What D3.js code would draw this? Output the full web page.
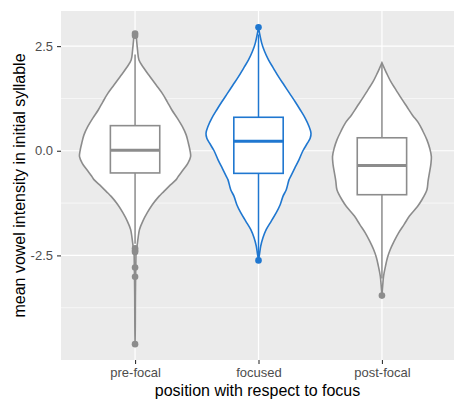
<!DOCTYPE html>
<html><head><meta charset="utf-8">
<script src="https://cdn.jsdelivr.net/npm/d3@7"></script>
<style>body{margin:0;background:#fff}svg{display:block}text{font-family:"Liberation Sans",Arial,sans-serif}</style>
</head><body><svg id="c" width="454" height="399"></svg>
<script>
const categories = ["pre-focal","focused","post-focal"];
const colors = ["#8c8c8c","#1f77d0","#8c8c8c"];
const yTicks = [2.5, 0.0, -2.5];
const yMinor = [1.25, -1.25, -3.75];
// relative density profiles [value, density]
const densityPre = [[2.80,0],[2.72,0.02],[2.60,0.03],[2.40,0.045],[2.17,0.07],[1.97,0.16],[1.77,0.27],[1.57,0.38],[1.37,0.49],[1.17,0.58],[0.98,0.66],[0.78,0.76],[0.58,0.85],[0.38,0.92],[0.18,0.96],[0.0,0.99],[-0.14,1.0],[-0.30,0.95],[-0.45,0.87],[-0.61,0.78],[-0.69,0.74],[-0.85,0.61],[-1.01,0.49],[-1.09,0.43],[-1.29,0.31],[-1.48,0.22],[-1.68,0.14],[-1.88,0.08],[-2.08,0.055],[-2.28,0.035],[-2.40,0.02],[-2.7,0.014],[-3.0,0.01],[-3.5,0.006],[-4.2,0.004],[-4.62,0]];
const densityFoc = [[2.96,0],[2.80,0.02],[2.56,0.06],[2.37,0.11],[2.17,0.18],[1.97,0.27],[1.77,0.36],[1.57,0.46],[1.37,0.56],[1.17,0.66],[0.98,0.75],[0.78,0.84],[0.58,0.91],[0.42,0.945],[0.30,0.93],[0.18,0.88],[0.0,0.80],[-0.21,0.73],[-0.41,0.655],[-0.61,0.58],[-0.69,0.55],[-0.93,0.50],[-1.09,0.44],[-1.29,0.39],[-1.48,0.32],[-1.68,0.23],[-1.88,0.14],[-2.08,0.08],[-2.28,0.04],[-2.45,0.02],[-2.63,0]];
const densityPost = [[2.10,0],[1.98,0.04],[1.85,0.085],[1.65,0.16],[1.45,0.255],[1.25,0.35],[1.05,0.45],[0.85,0.55],[0.66,0.66],[0.46,0.74],[0.26,0.81],[0.06,0.86],[-0.14,0.89],[-0.33,0.88],[-0.53,0.855],[-0.73,0.83],[-0.93,0.81],[-1.17,0.72],[-1.33,0.64],[-1.56,0.495],[-1.76,0.40],[-1.96,0.30],[-2.16,0.22],[-2.36,0.15],[-2.55,0.10],[-2.75,0.065],[-2.99,0.03],[-3.2,0.015],[-3.46,0]];
// box stats: [lowerWhisker, q1, median, q3, upperWhisker]
const boxPre = [-2.22, -0.53, 0.01, 0.60, 2.30];
const boxFoc = [-2.50, -0.54, 0.23, 0.80, 2.78];
const boxPost = [-3.05, -1.05, -0.35, 0.31, 2.10];
const outliersPre = [2.80, 2.75, -2.33, -2.38, -2.42, -2.79, -3.01, -4.62];
const outliersFoc = [2.95, -2.62];
const outliersPost = [-3.46];

const densities = [densityPre, densityFoc, densityPost];
const boxes = [boxPre, boxFoc, boxPost];
const outliers = [outliersPre, outliersFoc, outliersPost];

const svg = d3.select("#c");
const L = 61, R = 456, T = 11, B = 360;
const x = d3.scalePoint().domain(categories).range([L, R]).padding(0.6);
const allVals = outliers.flat().concat(densities.flat().map(d=>d[0]));
const ext = d3.extent(allVals), pad = (ext[1]-ext[0])*0.05;
const y = d3.scaleLinear().domain([ext[0]-pad, ext[1]+pad]).range([B, T]);
const step = x.step();
const w = d3.scaleLinear().domain([0, 1]).range([0, 0.45*step]);

svg.append("rect").attr("x",L).attr("y",T).attr("width",R-L).attr("height",B-T).attr("fill","#ebebeb");
const g = svg.append("g");
yMinor.forEach(v=>g.append("line").attr("x1",L).attr("x2",R).attr("y1",y(v)).attr("y2",y(v)).attr("stroke","#fff").attr("stroke-width",0.6));
yTicks.forEach(v=>g.append("line").attr("x1",L).attr("x2",R).attr("y1",y(v)).attr("y2",y(v)).attr("stroke","#fff").attr("stroke-width",1.2));
categories.forEach(c=>g.append("line").attr("x1",x(c)).attr("x2",x(c)).attr("y1",T).attr("y2",B).attr("stroke","#fff").attr("stroke-width",1.2));

categories.forEach((c,i)=>{
  const cx = x(c), col = colors[i];
  const area = d3.area().y(d=>y(d[0])).x0(d=>cx-w(d[1])).x1(d=>cx+w(d[1])).curve(d3.curveCatmullRom);
  svg.append("path").attr("d",area(densities[i])).attr("fill","#fff").attr("stroke",col).attr("stroke-width",1.6);
  const b = boxes[i], bw = 0.2*step;
  svg.append("line").attr("x1",cx).attr("x2",cx).attr("y1",y(b[0])).attr("y2",y(b[1])).attr("stroke",col).attr("stroke-width",1.5);
  svg.append("line").attr("x1",cx).attr("x2",cx).attr("y1",y(b[3])).attr("y2",y(b[4])).attr("stroke",col).attr("stroke-width",1.5);
  svg.append("rect").attr("x",cx-bw).attr("width",2*bw).attr("y",y(b[3])).attr("height",y(b[1])-y(b[3])).attr("fill","#fff").attr("stroke",col).attr("stroke-width",1.6);
  svg.append("line").attr("x1",cx-bw).attr("x2",cx+bw).attr("y1",y(b[2])).attr("y2",y(b[2])).attr("stroke",col).attr("stroke-width",3);
  outliers[i].forEach(v=>svg.append("circle").attr("cx",cx).attr("cy",y(v)).attr("r",3.3).attr("fill",col));
});

// axes
const ya = svg.append("g").attr("transform",`translate(${L},0)`).call(d3.axisLeft(y).tickValues(yTicks).tickFormat(d3.format(".1f")).tickSize(4).tickPadding(4));
const xa = svg.append("g").attr("transform",`translate(0,${B})`).call(d3.axisBottom(x).tickSize(4).tickPadding(4));
[ya,xa].forEach(a=>{a.select(".domain").remove();a.selectAll(".tick line").attr("stroke","#333").attr("stroke-width",1.1);a.selectAll(".tick text").attr("fill","#4d4d4d").attr("font-size",13).attr("font-family","Liberation Sans, Arial, sans-serif");});
ya.selectAll(".tick text").text(d=>d3.format(".1f")(d).replace("\u2212","-"));

svg.append("text").attr("x",(L+R-2)/2).attr("y",396).attr("text-anchor","middle").attr("font-size",16).attr("fill","#000").text("position with respect to focus");
svg.append("text").attr("transform",`translate(25,${(T+B)/2}) rotate(-90)`).attr("text-anchor","middle").attr("font-size",16).attr("fill","#000").text("mean vowel intensity in initial syllable");
</script></body></html>
